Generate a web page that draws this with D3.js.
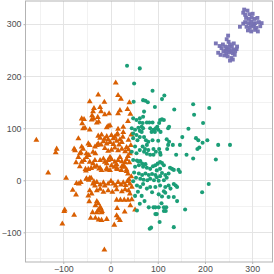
<!DOCTYPE html>
<html><head><meta charset="utf-8">
<script src="https://cdn.jsdelivr.net/npm/d3@7"></script>
<style>body{margin:0;background:#fff}svg{display:block}</style>
</head><body><svg id="c" width="274" height="274"></svg>
<script>
const groups = ["A", "B", "C"];
const colors = ["#D95F02", "#1B9E77", "#7570B3"];
const xTicks = [-100, 0, 100, 200, 300];
const yTicks = [-100, 0, 100, 200, 300];
const xMinor = [-150, -50, 50, 150, 250];
const yMinor = [-150, -50, 50, 150, 250];

const groupA = [
[-157,78],[-114,61],[-116,54],[-132,15],[-94,5],[-77,61],[-73,35],[-65,52],[-63,54],[-51,45],[-72,-5],[-80,-18],[-73,-27],[-97,-56],[-98,-59],[-77,-66],[-102,-83],[-52,19],[-44,5],[-51,3],[-35,-2],[-47,-29],[-45,-40],[-38,-61],[14,-53],[13,-37],[21,-37],[29,-37],[37,-37],[45,-36],[52,-56],
[11,188],[-26,165],[-44,152],[-13,151],[16,164],[22,157],[-35,139],[-22,141],[-37,133],[-39,125],[-20,133],[-3,129],[-12,127],[-27,122],[-40,117],[-36,119],[16,129],[20,135],[36,137],[-61,119],[-56,118],[-60,110],[-58,100],[-54,101],[-29,111],[-25,113],[-44,98],[-5,105],[-8,102],[-1,106],[16,99],[15,90],[27,103],[27,93],[37,114],
[-26,86],[-22,82],[-19,88],[-13,80],[-8,85],[-5,79],[2,87],[6,81],[9,84],[13,88],[20,79],[26,84],
[-68,81],[-47,71],[-44,68],[-61,65],[-58,61],[-33,65],[-29,68],[-26,71],[-20,69],
[-15,75],[-8,71],[-1,74],[6,70],[13,76],[18,69],[24,74],
[-75,58],[-51,52],[-46,49],[-37,55],[-32,52],
[-12,62],[-5,57],[2,59],[9,63],[16,58],[24,61],[31,56],[34,64],[38,60],
[-68,45],[-61,36],[-56,39],[-44,36],[-37,33],[-33,39],
[-22,39],[-15,42],[-12,36],[-8,33],[-5,39],[-1,45],[2,41],[9,36],[13,31],[16,39],[20,45],[24,37],[27,29],[31,35],[34,41],[37,47],[41,52],
[-65,27],[-47,22],[-29,28],[-22,24],[-8,21],[2,29],[13,23],[24,27],[34,21],
[-53,22],[-41,24],[-34,26],[-24,23],[-19,20],[-8,24],[-1,20],[8,26],[15,22],[23,20],[30,26],[34,18],[37,13],
[-67,-6],[-63,-3],[-51,4],[-46,1],[-41,5],
[-37,-6],[-33,-10],[-29,-3],[-22,-8],[-15,-4],[-12,-10],[-5,-6],[1,-1],[6,-6],[11,-10],[16,-3],[22,-8],[27,-4],[32,-9],[36,-1],[41,-6],[45,-12],
[-44,-19],[-40,-25],
[-29,-19],[-22,-16],[-15,-22],[-5,-19],[4,-22],[13,-17],[24,-21],[31,-17],[38,-19],[41,-25],
[-29,-40],[-26,-44],[-32,-48],[-22,-51],[-20,-54],[-26,-57],[-18,-59],[-29,-61],[-19,-61],
[-42,-72],[-32,-72],[-25,-75],[-19,-76],[-8,-74],[8,-85],[13,-67],[16,-72],[20,-76],[-13,-133],
[40,150],[42,128],[44,88],[38,78],[43,68],[40,35],[44,8],[39,2],[42,-48],[30,-60]
];

const groupB = [
[35,220],[62,215],[50,186],[49,151],[69,154],[48,119],[55,116],[62,119],[69,122],
[89,172],[114,163],[109,156],[74,153],[79,150],[71,132],[94,141],[175,146],[135,136],[209,139],[177,126],
[62,111],[68,110],[77,111],[82,111],[89,111],[103,110],[105,116],[109,117],[113,116],
[66,103],[69,100],[62,95],[66,93],[84,100],[91,97],[96,100],[99,103],[101,97],[87,93],[94,93],[106,93],[124,103],[122,100],[165,99],[196,110],
[62,83],[71,83],[75,77],[80,74],[77,68],[68,65],[73,60],[80,58],[89,77],[101,76],[119,79],[124,74],[122,68],[120,60],[132,68],[147,68],[152,83],[181,81],[186,77],[188,63],[184,60],[195,72],[205,77],[228,68],[253,68],
[91,60],[103,60],[96,55],[105,53],[106,49],[62,58],[71,55],[77,51],[84,49],[91,49],[139,49],[161,49],[175,42],[223,40],
[56,38],[63,37],[67,32],[74,31],[60,29],[69,26],[77,24],[84,22],[90,27],[95,29],[100,32],[105,35],[109,33],[113,29],[105,22],[98,19],
[126,24],[130,22],[134,20],[144,20],[147,16],
[60,13],[67,10],[74,13],[81,10],[88,12],[95,10],[98,6],[105,8],[109,14],[116,10],[119,5],[123,13],[84,3],[70,1],[63,3],[78,0],[92,0],[102,-1],[113,0],
[208,-7],[194,-23],
[56,-10],[63,-13],[69,-7],[77,-16],[84,-13],[95,-13],[105,-10],[116,-13],[123,-10],[134,-7],[138,-10],[141,-13],[127,-16],[113,-21],[88,-23],[102,-27],[109,-31],[116,-24],[123,-32],[134,-32],
[141,-40],[158,-56],[81,-52],[91,-52],[95,-52],[102,-52],[113,-52],[118,-52],[98,-65],[104,-80],[134,-90],[83,-93],[86,-91],[56,-58],[108,-44],[117,-59],[113,-59],[95,-65],
[45,100],[52,97],[59,101],[48,90],[55,87],[48,81],[57,77],[52,65],[45,55],[55,52],[48,39],[59,36],[52,26],
[50,15],[54,5],[48,-2],[58,-22],[66,-30],[52,-30],[72,-40],[62,-45]
];

const groupC = [
[223,263],[249,278],[246,271],[250,266],[238,261],[243,257],[235,254],[253,261],[257,257],[261,263],
[246,252],[252,250],[260,251],[267,252],[239,248],[245,244],[251,246],[259,244],[264,248],[228,245],[233,241],
[241,240],[248,238],[256,235],[263,241],[253,230],[259,232],[231,258],[268,257],[250,256],[244,249],[256,248],
[281,322],[285,318],[294,319],[301,320],[287,312],[293,310],[299,313],[305,310],[311,312],
[285,304],[292,302],[298,305],[306,302],[314,304],[274,295],[288,295],[295,293],[302,296],[309,293],[317,296],
[291,288],[298,286],[306,289],[312,286],[320,302],[281,301],[297,299],[304,300],[290,326],[283,328]
];
const data = [groupA, groupB, groupC];

const svg = d3.select("#c");
const L = 25.5, R = 272.5, T = 1, B = 262;
const x = d3.scaleLinear().domain([-180, 343]).range([L, R]);
const y = d3.scaleLinear().domain([-157, 344.5]).range([B, T]);

const g = svg.append("g");
g.selectAll(".mx").data(xMinor).join("line")
  .attr("x1", d => Math.round(x(d)) + 0.5).attr("x2", d => Math.round(x(d)) + 0.5)
  .attr("y1", T).attr("y2", B).attr("stroke", "#efefef").attr("stroke-width", 0.8);
g.selectAll(".my").data(yMinor).join("line")
  .attr("y1", d => Math.round(y(d)) + 0.5).attr("y2", d => Math.round(y(d)) + 0.5)
  .attr("x1", L).attr("x2", R).attr("stroke", "#efefef").attr("stroke-width", 0.8);
g.selectAll(".Mx").data(xTicks).join("line")
  .attr("x1", d => Math.round(x(d)) + 0.5).attr("x2", d => Math.round(x(d)) + 0.5)
  .attr("y1", T).attr("y2", B).attr("stroke", "#e4e4e4").attr("stroke-width", 1);
g.selectAll(".My").data(yTicks).join("line")
  .attr("y1", d => Math.round(y(d)) + 0.5).attr("y2", d => Math.round(y(d)) + 0.5)
  .attr("x1", L).attr("x2", R).attr("stroke", "#e4e4e4").attr("stroke-width", 1);

const shapes = [d3.symbolTriangle, d3.symbolCircle, d3.symbolSquare];
const sizes = [15, 13, 15];
data.forEach((pts, i) => {
  const sym = d3.symbol().type(shapes[i]).size(sizes[i]);
  svg.append("g").selectAll("path").data(pts).join("path")
    .attr("d", sym)
    .attr("transform", d => `translate(${x(d[0])},${y(d[1]) + (i === 0 ? 0.4 : 0)})`)
    .attr("fill", colors[i])
    .attr("fill-opacity", i === 2 ? 0.95 : 1);
});

svg.append("rect").attr("x", L).attr("y", T).attr("width", R - L).attr("height", B - T)
  .attr("fill", "none").attr("stroke", "#b3b3b3").attr("stroke-width", 1);

const fmt = d => d < 0 ? "\u2212" + Math.abs(d) : String(d);
const xAxis = d3.axisBottom(x).tickValues(xTicks).tickFormat(fmt).tickSize(2).tickPadding(2);
const yAxis = d3.axisLeft(y).tickValues(yTicks).tickFormat(fmt).tickSize(2).tickPadding(2);
const ax = svg.append("g").attr("transform", `translate(0,${B})`).call(xAxis);
const ay = svg.append("g").attr("transform", `translate(${L},0)`).call(yAxis);
[ax, ay].forEach(a => {
  a.select(".domain").remove();
  a.selectAll(".tick line").attr("stroke", "#b3b3b3");
  a.selectAll("text").attr("fill", "#4d4d4d").style("font-family", "'Liberation Sans', Arial, sans-serif").style("font-size", "8.8px");
});
</script></body></html>
